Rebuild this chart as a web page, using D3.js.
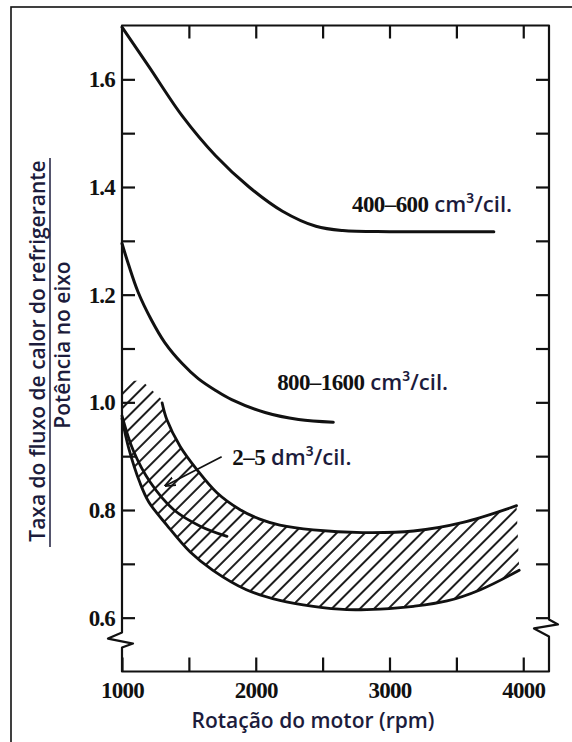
<!DOCTYPE html>
<html>
<head>
<meta charset="utf-8">
<script src="https://cdn.jsdelivr.net/npm/d3@7"></script>
<style>
  body { margin: 0; background: #fff; }
  svg { display: block; }
</style>
</head>
<body>
<svg width="572" height="742"></svg>
<script>
// axis ticks
const rpmTicks = [1000, 1500, 2000, 2500, 3000, 3500, 4000];
const rpmLabels = [1000, 2000, 3000, 4000];
const ratioTicks = [0.6, 0.7, 0.8, 0.9, 1.0, 1.1, 1.2, 1.3, 1.4, 1.5, 1.6];
const ratioLabels = [0.6, 0.8, 1.0, 1.2, 1.4, 1.6];

// 400-600 cm3/cil curve
const smallRpm = [1000, 1200, 1450, 1700, 1950, 2200, 2450, 2650, 3000, 3400, 3780];
const smallVal = [1.697, 1.624, 1.532, 1.458, 1.400, 1.355, 1.327, 1.319, 1.317, 1.317, 1.317];

// 800-1600 cm3/cil curve
const midRpm = [1000, 1050, 1120, 1220, 1320, 1450, 1570, 1700, 1820, 2070, 2320, 2580];
const midVal = [1.295, 1.255, 1.205, 1.153, 1.111, 1.072, 1.044, 1.022, 1.005, 0.981, 0.968, 0.963];

// 2-5 dm3/cil band
const upperRpm = [1300, 1335, 1435, 1560, 1710, 1880, 2030, 2180, 2430, 2800, 3180, 3550, 3950];
const upperVal = [0.999, 0.968, 0.918, 0.875, 0.832, 0.801, 0.783, 0.772, 0.763, 0.758, 0.761, 0.777, 0.808];
const lowerRpm = [1000, 1050, 1135, 1200, 1335, 1510, 1680, 1930, 2180, 2430, 2680, 2930, 3180, 3430, 3680, 3970];
const lowerVal = [0.970, 0.915, 0.850, 0.815, 0.772, 0.722, 0.688, 0.652, 0.632, 0.621, 0.615, 0.616, 0.621, 0.631, 0.652, 0.688];
const innerRpm = [1000, 1085, 1210, 1385, 1585, 1785];
const innerVal = [0.975, 0.910, 0.852, 0.801, 0.770, 0.751];
// loose top edge of the hatching left of the band
const hatchTopRpm = [1000, 1150, 1300];
const hatchTopVal = [1.04, 1.04, 1.005];

// annotations
const labelNum = ['400–600', '800–1600', '2–5'];
const labelUnit = ['cm³/cil.', 'cm³/cil.', 'dm³/cil.'];
const labelRpm = [2720, 2160, 1825];
const labelVal = [1.353, 1.022, 0.884];
const leaderRpm = [1745, 1325];
const leaderVal = [0.899, 0.845];

const ink = '#111';
const navy = '#1c1c3c';
const serif = '"Liberation Serif", "Times New Roman", serif';
const sans = '"Open Sans", "Noto Sans", sans-serif';

const svg = d3.select('svg');

const x = d3.scaleLinear().domain([1000, 4200]).range([122, 550]);
const y = d3.scaleLinear().domain([0.5, 1.7]).range([671.5, 25.5]);

const pts = (xs, ys) => xs.map((d, i) => [d, ys[i]]);
const line = d3.line()
    .x(d => x(d[0]))
    .y(d => y(d[1]))
    .curve(d3.curveCatmullRom.alpha(0.5));
const straight = d3.line()
    .x(d => x(d[0]))
    .y(d => y(d[1]));

// outer frame
svg.append('rect')
    .attr('x', 11)
    .attr('y', 7)
    .attr('width', 620)
    .attr('height', 800)
    .attr('fill', 'none')
    .attr('stroke', ink)
    .attr('stroke-width', 1.6);

const defs = svg.append('defs');

defs.append('pattern')
    .attr('id', 'hatch')
    .attr('patternUnits', 'userSpaceOnUse')
    .attr('width', 10)
    .attr('height', 10)
    .attr('patternTransform', 'rotate(45)')
    .append('line')
    .attr('x1', 5).attr('y1', -1)
    .attr('x2', 5).attr('y2', 11)
    .attr('stroke', ink)
    .attr('stroke-width', 1.9);

defs.append('marker')
    .attr('id', 'arrow')
    .attr('viewBox', '0 0 10 10')
    .attr('refX', 9)
    .attr('refY', 5)
    .attr('markerUnits', 'userSpaceOnUse')
    .attr('markerWidth', 11)
    .attr('markerHeight', 11)
    .attr('orient', 'auto')
    .append('path')
    .attr('d', 'M0,1 L10,5 L0,9')
    .attr('fill', 'none')
    .attr('stroke', ink)
    .attr('stroke-width', 1.6);

// hatched band
const upperPts = pts(upperRpm, upperVal);
const lowerPts = pts(lowerRpm, lowerVal);
const topPts = pts(hatchTopRpm, hatchTopVal);
const bandPath =
    straight(topPts) +
    line(upperPts).replace(/^M/, 'L') +
    line(lowerPts.slice().reverse()).replace(/^M/, 'L') +
    'Z';

svg.append('path')
    .attr('d', bandPath)
    .attr('fill', 'url(#hatch)')
    .attr('stroke', 'none');

// band edges and inner curve
[upperPts, lowerPts, pts(innerRpm, innerVal)].forEach(function(p) {
    svg.append('path')
        .attr('d', line(p))
        .attr('fill', 'none')
        .attr('stroke', ink)
        .attr('stroke-width', 2.8)
        .attr('stroke-linecap', 'round');
});

// the two single curves
[pts(smallRpm, smallVal), pts(midRpm, midVal)].forEach(function(p) {
    svg.append('path')
        .attr('d', line(p))
        .attr('fill', 'none')
        .attr('stroke', ink)
        .attr('stroke-width', 3)
        .attr('stroke-linecap', 'round');
});

// frame of the plot with axis breaks
const x0 = x(1000), x1 = x(4200), yTop = y(1.7), yBot = y(0.5);
const bl = y(0.563), br = y(0.58);
const frame = d3.path();
frame.moveTo(x0, yTop);
frame.lineTo(x0, bl - 5);
frame.lineTo(x0 - 14, bl + 1);
frame.lineTo(x0 + 11, bl + 6);
frame.lineTo(x0, bl + 10);
frame.lineTo(x0, yBot);
frame.lineTo(x1 - 1, yBot);
frame.lineTo(x1 - 1, br + 8);
frame.lineTo(x1 - 16, br);
frame.lineTo(x1 + 8, br - 4);
frame.lineTo(x1 - 1, br - 9);
frame.lineTo(x1 - 1, yTop);
frame.closePath();

svg.append('path')
    .attr('d', frame.toString())
    .attr('fill', 'none')
    .attr('stroke', ink)
    .attr('stroke-width', 2.2)
    .attr('stroke-linejoin', 'round');

// axes (ticks point inward)
const fmt = d3.format('.1f');

const axLeft = svg.append('g')
    .attr('transform', `translate(${x0},0)`)
    .call(d3.axisLeft(y)
        .tickValues(ratioTicks)
        .tickSize(-13)
        .tickPadding(7)
        .tickFormat(d => ratioLabels.some(v => Math.abs(v - d) < 1e-9) ? fmt(d) : ''));

const axRight = svg.append('g')
    .attr('transform', `translate(${x1 - 1},0)`)
    .call(d3.axisRight(y).tickValues(ratioTicks).tickSize(-13).tickFormat(''));

const axTop = svg.append('g')
    .attr('transform', `translate(0,${yTop})`)
    .call(d3.axisTop(x).tickValues(rpmTicks.slice(1)).tickSize(-13).tickFormat(''));

const axBottom = svg.append('g')
    .attr('transform', `translate(0,${yBot})`)
    .call(d3.axisBottom(x)
        .tickValues(rpmTicks)
        .tickSize(-14)
        .tickPadding(10)
        .tickFormat(d => rpmLabels.indexOf(d) >= 0 ? d : ''));

[axLeft, axRight, axTop, axBottom].forEach(function(g) {
    g.select('.domain').remove();
    g.selectAll('.tick line').attr('stroke', ink).attr('stroke-width', 2.2);
    g.selectAll('.tick text')
        .attr('fill', ink)
        .style('font-family', serif)
        .style('font-weight', 'bold')
        .style('font-size', '23px')
        .style('letter-spacing', '-0.8px');
});

// leader for the band label
svg.append('line')
    .attr('x1', x(leaderRpm[0]))
    .attr('y1', y(leaderVal[0]))
    .attr('x2', x(leaderRpm[1]))
    .attr('y2', y(leaderVal[1]))
    .attr('stroke', ink)
    .attr('stroke-width', 1.8)
    .attr('marker-end', 'url(#arrow)');

// curve labels
labelNum.forEach(function(txt, i) {
    const t = svg.append('text')
        .attr('x', x(labelRpm[i]))
        .attr('y', y(labelVal[i]));
    t.append('tspan')
        .attr('fill', ink)
        .style('font-family', serif)
        .style('font-weight', 'bold')
        .style('font-size', '23px')
        .style('letter-spacing', '-0.6px')
        .text(txt);
    t.append('tspan')
        .attr('dx', 6)
        .attr('fill', navy)
        .style('font-family', sans)
        .style('font-weight', 600)
        .style('font-size', '22px')
        .text(labelUnit[i]);
});

// axis titles
svg.append('text')
    .attr('x', 313)
    .attr('y', 728)
    .attr('text-anchor', 'middle')
    .attr('fill', navy)
    .style('font-family', sans)
    .style('font-weight', 600)
    .style('font-size', '21px')
    .text('Rotação do motor (rpm)');

const yTitle = svg.append('g');
yTitle.append('text')
    .attr('transform', 'translate(45,351) rotate(-90)')
    .attr('text-anchor', 'middle')
    .attr('fill', navy)
    .style('font-family', sans)
    .style('font-size', '21px')
    .style('font-weight', 600)
    .text('Taxa do fluxo de calor do refrigerante');
yTitle.append('line')
    .attr('x1', 50).attr('x2', 50)
    .attr('y1', 158).attr('y2', 547)
    .attr('stroke', navy)
    .attr('stroke-width', 1.5);
yTitle.append('text')
    .attr('transform', 'translate(70,345) rotate(-90)')
    .attr('text-anchor', 'middle')
    .attr('fill', navy)
    .style('font-family', sans)
    .style('font-size', '21px')
    .style('font-weight', 600)
    .text('Potência no eixo');
</script>
</body>
</html>
